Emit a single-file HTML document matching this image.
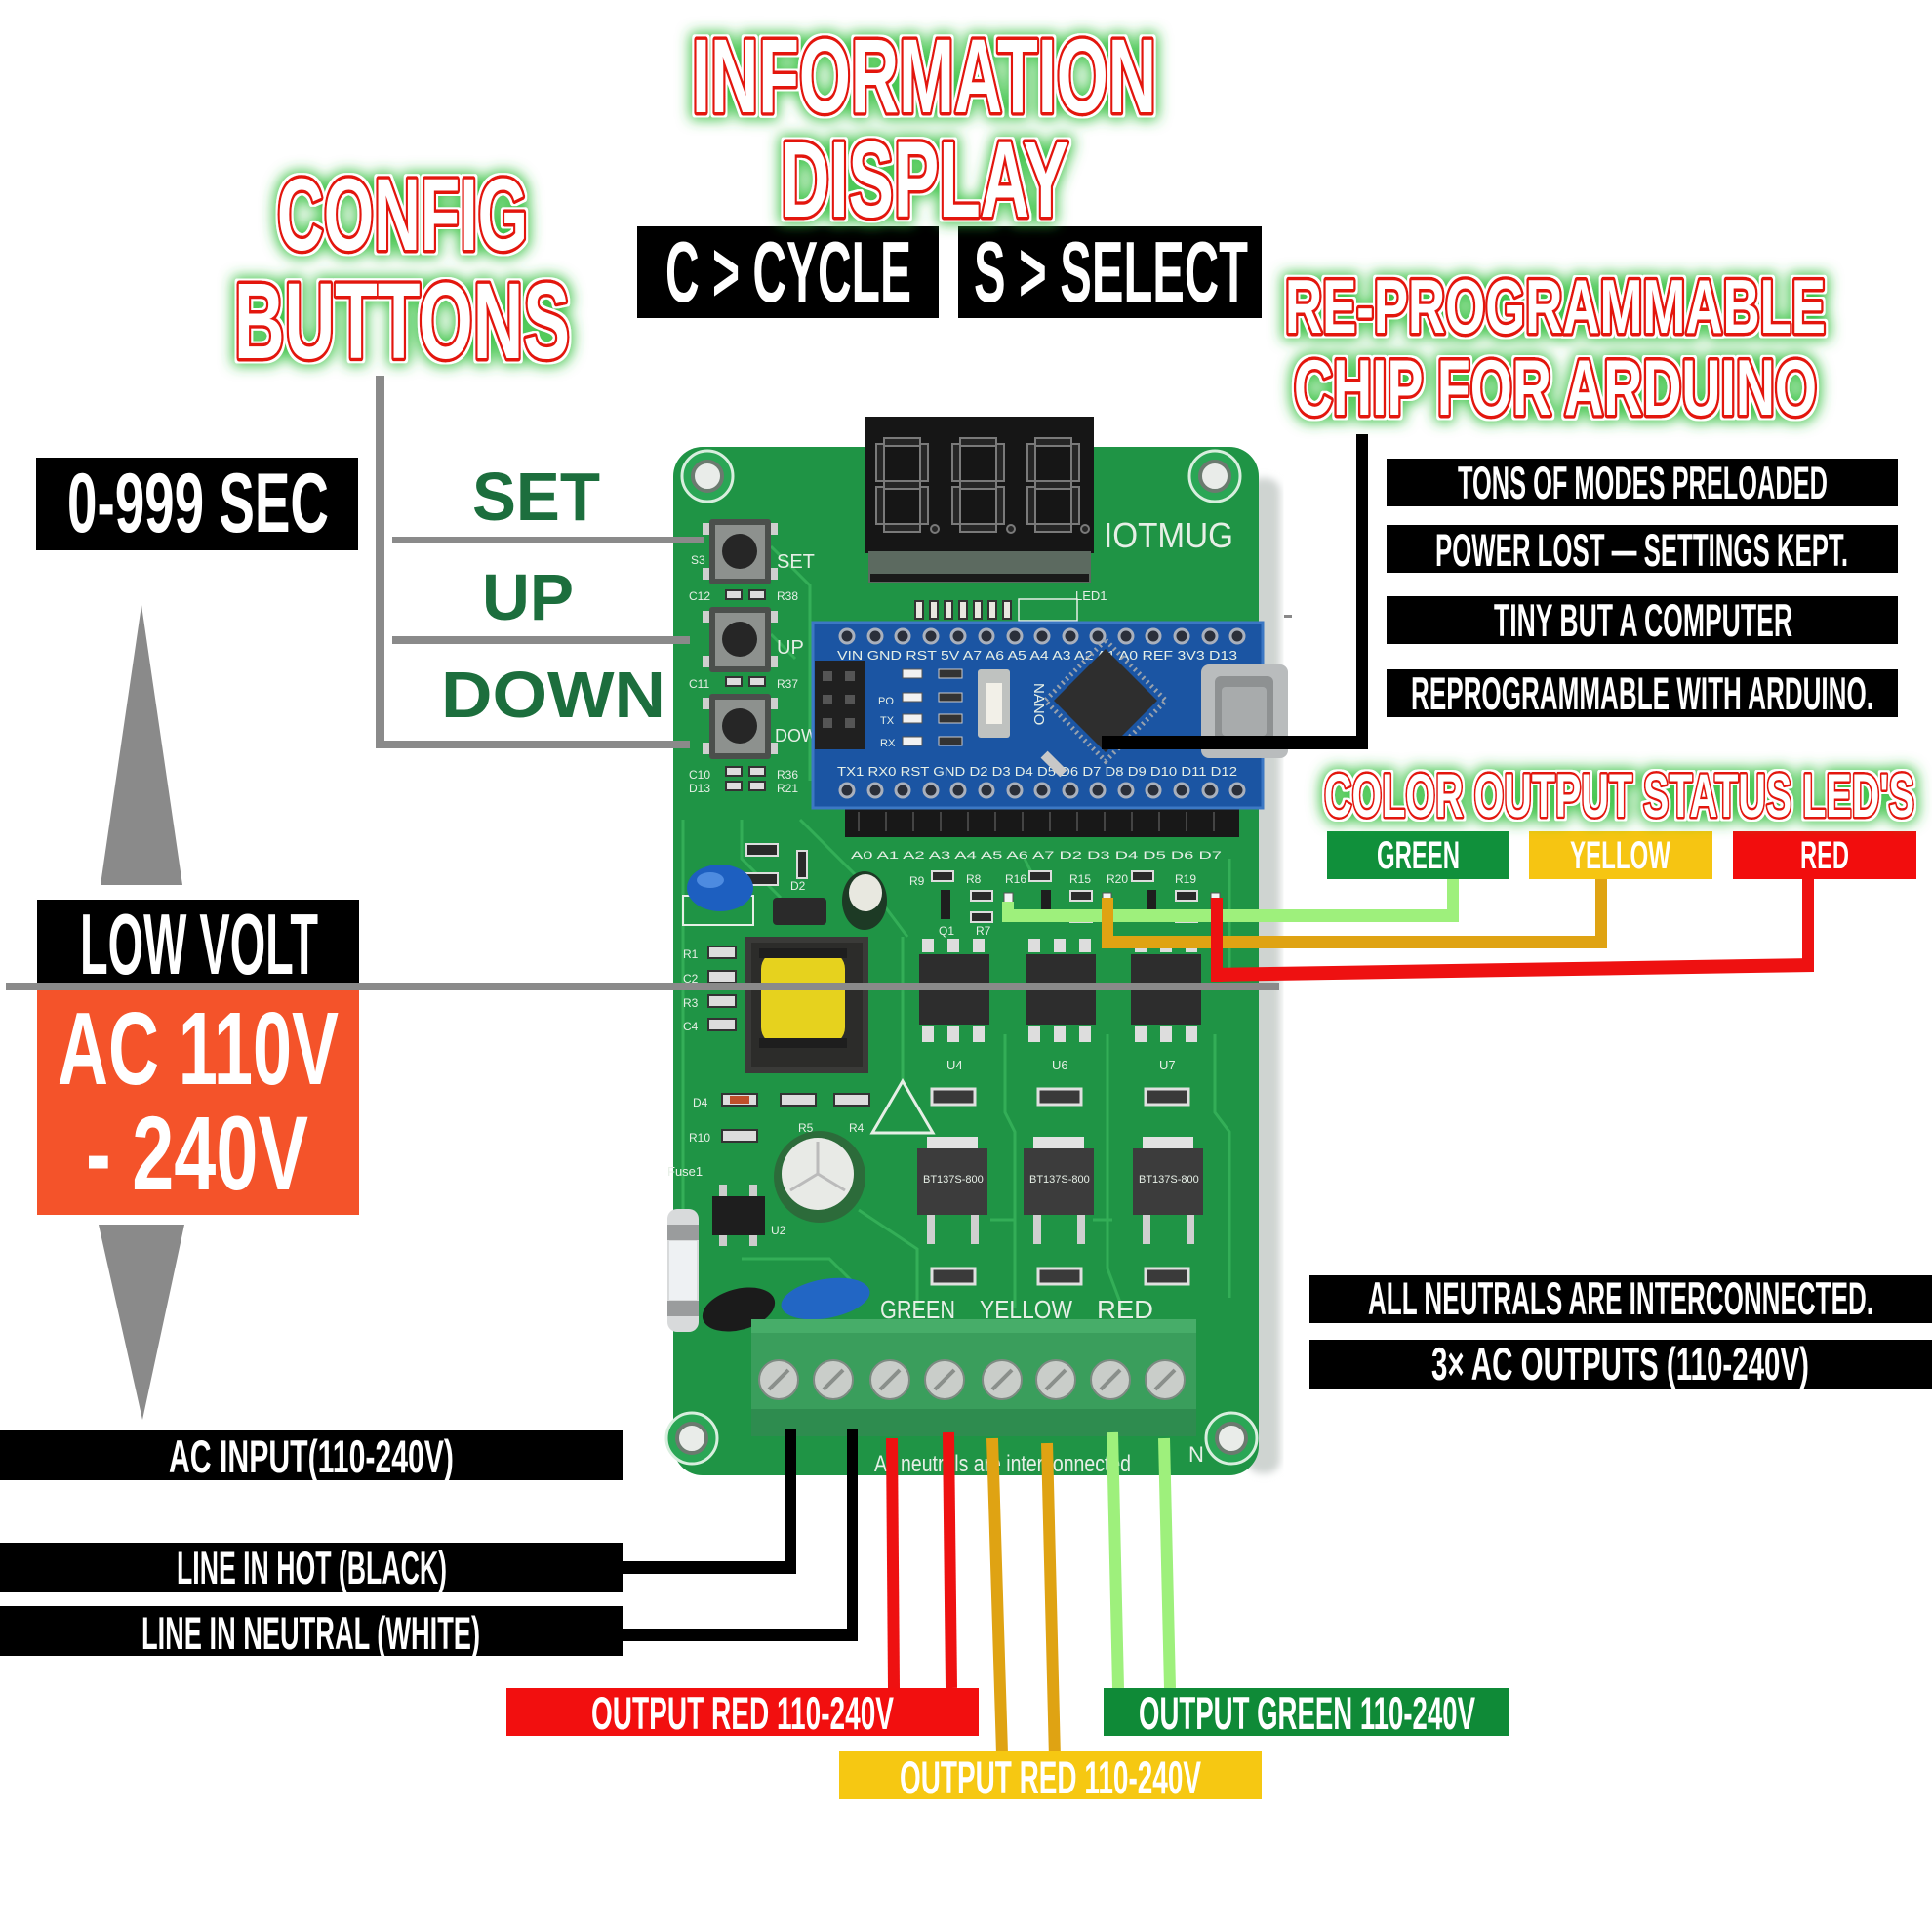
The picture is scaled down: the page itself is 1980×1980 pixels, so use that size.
<!DOCTYPE html>
<html><head><meta charset="utf-8"><style>
html,body{margin:0;padding:0;background:#fff;}
svg{display:block;}
.t{font-family:"Liberation Sans",sans-serif;font-weight:bold;fill:#fff;stroke:#e3120f;stroke-width:7;paint-order:stroke;stroke-linejoin:round;}
.b{font-family:"Liberation Sans",sans-serif;font-weight:bold;fill:#fff;}
.g{font-family:"Liberation Sans",sans-serif;font-weight:bold;fill:#1c6e3d;}
.s{font-family:"Liberation Sans",sans-serif;fill:#e6efe6;}
</style></head><body>
<svg width="1980" height="1980" viewBox="0 0 1980 1980" xmlns="http://www.w3.org/2000/svg">
<defs>
<filter id="glow" x="-20%" y="-40%" width="140%" height="180%">
 <feMorphology in="SourceAlpha" operator="dilate" radius="2" result="d1"/>
 <feFlood flood-color="#ffffff" result="w"/>
 <feComposite in="w" in2="d1" operator="in" result="white"/>
 <feMorphology in="SourceAlpha" operator="dilate" radius="4" result="d2"/>
 <feGaussianBlur in="d2" stdDeviation="7" result="bl"/>
 <feFlood flood-color="#2fbf3a" flood-opacity="0.9"/>
 <feComposite in2="bl" operator="in" result="gl"/>
 <feMerge><feMergeNode in="gl"/><feMergeNode in="white"/><feMergeNode in="SourceGraphic"/></feMerge>
</filter>
<filter id="soft"><feGaussianBlur stdDeviation="4"/></filter>
</defs>
<rect width="1980" height="1980" fill="#fff"/>

<!-- ============ PCB ============ -->
<rect x="1278" y="490" width="34" height="1020" rx="14" fill="#cfd4d1" filter="url(#soft)"/>
<rect x="690" y="458" width="600" height="1054" rx="30" fill="#1f9445"/>
<g stroke="#39b55c" stroke-width="3" fill="none" opacity="0.8">
 <path d="M700 840 L700 1240"/>
 <path d="M790 560 L830 600 L830 800"/>
 <path d="M790 650 L815 675"/>
 <path d="M760 840 L760 880 L800 920"/>
 <path d="M820 840 L900 920 L930 960"/>
 <path d="M925 960 L925 1110"/>
 <path d="M1030 1060 L1030 1140 L1040 1160 L1040 1340"/>
 <path d="M1135 1060 L1135 1300 L1150 1340"/>
 <path d="M1245 1060 L1245 1140 L1260 1160 L1260 1330"/>
 <path d="M880 1240 L940 1280 L940 1340"/>
 <path d="M1015 1250 L1040 1250"/>
 <path d="M1120 1250 L1140 1250"/>
 <path d="M760 1290 L850 1290 L880 1320"/>
 <path d="M1260 880 L1260 1000"/>
 <path d="M1050 880 L1060 900"/>
</g>
<g>
 <circle cx="725" cy="488" r="26" fill="#2aa655" stroke="#d8eede" stroke-width="3"/>
 <circle cx="725" cy="488" r="15" fill="#e9ece9" stroke="#6b7a6f" stroke-width="4"/>
 <circle cx="1245" cy="488" r="26" fill="#2aa655" stroke="#d8eede" stroke-width="3"/>
 <circle cx="1245" cy="488" r="15" fill="#e9ece9" stroke="#6b7a6f" stroke-width="4"/>
 <circle cx="709" cy="1474" r="26" fill="#2aa655" stroke="#d8eede" stroke-width="3"/>
 <circle cx="709" cy="1474" r="15" fill="#e9ece9" stroke="#6b7a6f" stroke-width="4"/>
 <circle cx="1262" cy="1474" r="26" fill="#2aa655" stroke="#d8eede" stroke-width="3"/>
 <circle cx="1262" cy="1474" r="15" fill="#e9ece9" stroke="#6b7a6f" stroke-width="4"/>
</g>
<rect x="886" y="427" width="235" height="140" fill="#161616"/>
<rect x="890" y="565" width="228" height="32" fill="#5c6a60"/>
<rect x="892" y="588" width="224" height="8" fill="#1a1a1a"/>
<g fill="#262626" stroke="#7a7a7a" stroke-width="2">
 <rect x="906" y="449" width="37" height="8"/><rect x="943" y="455" width="8" height="38"/><rect x="943" y="499" width="8" height="38"/><rect x="906" y="537" width="37" height="8"/><rect x="898" y="499" width="8" height="38"/><rect x="898" y="455" width="8" height="38"/><rect x="906" y="493" width="37" height="8"/><circle cx="958" cy="542" r="4"/>
 <rect x="984" y="449" width="37" height="8"/><rect x="1021" y="455" width="8" height="38"/><rect x="1021" y="499" width="8" height="38"/><rect x="984" y="537" width="37" height="8"/><rect x="976" y="499" width="8" height="38"/><rect x="976" y="455" width="8" height="38"/><rect x="984" y="493" width="37" height="8"/><circle cx="1036" cy="542" r="4"/>
 <rect x="1061" y="449" width="37" height="8"/><rect x="1098" y="455" width="8" height="38"/><rect x="1098" y="499" width="8" height="38"/><rect x="1061" y="537" width="37" height="8"/><rect x="1053" y="499" width="8" height="38"/><rect x="1053" y="455" width="8" height="38"/><rect x="1061" y="493" width="37" height="8"/><circle cx="1112" cy="542" r="4"/>
</g>
<text x="1131" y="561" class="s" font-size="36" textLength="133" lengthAdjust="spacingAndGlyphs">IOTMUG</text>
<text x="1102" y="615" class="s" font-size="13">LED1</text>
<g fill="#e8e8e0" stroke="#333" stroke-width="2">
 <rect x="938" y="616" width="8" height="18"/><rect x="953" y="616" width="8" height="18"/><rect x="968" y="616" width="8" height="18"/><rect x="983" y="616" width="8" height="18"/><rect x="998" y="616" width="8" height="18"/><rect x="1013" y="616" width="8" height="18"/><rect x="1028" y="616" width="8" height="18"/>
</g>
<g fill="none" stroke="#e6efe6" stroke-width="1.5">
 <rect x="1044" y="614" width="60" height="22"/>
</g>
<g>
 <rect x="720" y="536" width="10" height="12" fill="#cfcfcf"/><rect x="787" y="536" width="10" height="12" fill="#cfcfcf"/><rect x="720" y="582" width="10" height="12" fill="#cfcfcf"/><rect x="787" y="582" width="10" height="12" fill="#cfcfcf"/>
 <rect x="727" y="532" width="63" height="67" rx="3" fill="#4b4f4c"/><rect x="733" y="538" width="51" height="55" fill="#8d918e"/><circle cx="758" cy="565" r="18" fill="#262626"/>
 <rect x="720" y="626" width="10" height="12" fill="#cfcfcf"/><rect x="787" y="626" width="10" height="12" fill="#cfcfcf"/><rect x="720" y="672" width="10" height="12" fill="#cfcfcf"/><rect x="787" y="672" width="10" height="12" fill="#cfcfcf"/>
 <rect x="727" y="622" width="63" height="67" rx="3" fill="#4b4f4c"/><rect x="733" y="628" width="51" height="55" fill="#8d918e"/><circle cx="758" cy="655" r="18" fill="#262626"/>
 <rect x="720" y="715" width="10" height="12" fill="#cfcfcf"/><rect x="787" y="715" width="10" height="12" fill="#cfcfcf"/><rect x="720" y="761" width="10" height="12" fill="#cfcfcf"/><rect x="787" y="761" width="10" height="12" fill="#cfcfcf"/>
 <rect x="727" y="711" width="63" height="67" rx="3" fill="#4b4f4c"/><rect x="733" y="717" width="51" height="55" fill="#8d918e"/><circle cx="758" cy="744" r="18" fill="#262626"/>
</g>
<text x="796" y="582" class="s" font-size="20">SET</text>
<text x="796" y="670" class="s" font-size="20">UP</text>
<text x="794" y="760" class="s" font-size="18">DOWN</text>
<text x="708" y="578" class="s" font-size="12">S3</text>
<text x="706" y="615" class="s" font-size="12">C12</text><text x="796" y="615" class="s" font-size="12">R38</text>
<text x="706" y="705" class="s" font-size="12">C11</text><text x="796" y="705" class="s" font-size="12">R37</text>
<text x="706" y="798" class="s" font-size="12">C10</text><text x="796" y="798" class="s" font-size="12">R36</text>
<text x="706" y="812" class="s" font-size="12">D13</text><text x="796" y="812" class="s" font-size="12">R21</text>
<g fill="#ddd" stroke="#333" stroke-width="2">
 <rect x="744" y="605" width="16" height="9"/><rect x="768" y="605" width="16" height="9"/>
 <rect x="744" y="694" width="16" height="9"/><rect x="768" y="694" width="16" height="9"/>
 <rect x="744" y="786" width="16" height="9"/><rect x="768" y="786" width="16" height="9"/>
 <rect x="744" y="801" width="16" height="9"/><rect x="768" y="801" width="16" height="9"/>
</g>
<rect x="866" y="827" width="404" height="31" fill="#181818"/>
<g stroke="#444" stroke-width="2">
 <line x1="880" y1="832" x2="880" y2="852"/><line x1="908" y1="832" x2="908" y2="852"/><line x1="936" y1="832" x2="936" y2="852"/><line x1="964" y1="832" x2="964" y2="852"/><line x1="992" y1="832" x2="992" y2="852"/><line x1="1020" y1="832" x2="1020" y2="852"/><line x1="1048" y1="832" x2="1048" y2="852"/><line x1="1076" y1="832" x2="1076" y2="852"/><line x1="1104" y1="832" x2="1104" y2="852"/><line x1="1132" y1="832" x2="1132" y2="852"/><line x1="1160" y1="832" x2="1160" y2="852"/><line x1="1188" y1="832" x2="1188" y2="852"/><line x1="1216" y1="832" x2="1216" y2="852"/><line x1="1244" y1="832" x2="1244" y2="852"/>
</g>
<rect x="833" y="638" width="461" height="190" fill="#1b55a3"/>
<rect x="833" y="638" width="461" height="190" fill="none" stroke="#3c78c4" stroke-width="3"/>
<g fill="#2a2f3a" stroke="#a9b0bc" stroke-width="3">
 <circle cx="868" cy="652" r="7"/><circle cx="897" cy="652" r="7"/><circle cx="925" cy="652" r="7"/><circle cx="954" cy="652" r="7"/><circle cx="982" cy="652" r="7"/><circle cx="1011" cy="652" r="7"/><circle cx="1040" cy="652" r="7"/><circle cx="1068" cy="652" r="7"/><circle cx="1097" cy="652" r="7"/><circle cx="1125" cy="652" r="7"/><circle cx="1154" cy="652" r="7"/><circle cx="1182" cy="652" r="7"/><circle cx="1211" cy="652" r="7"/><circle cx="1240" cy="652" r="7"/><circle cx="1268" cy="652" r="7"/>
 <circle cx="868" cy="810" r="7"/><circle cx="897" cy="810" r="7"/><circle cx="925" cy="810" r="7"/><circle cx="954" cy="810" r="7"/><circle cx="982" cy="810" r="7"/><circle cx="1011" cy="810" r="7"/><circle cx="1040" cy="810" r="7"/><circle cx="1068" cy="810" r="7"/><circle cx="1097" cy="810" r="7"/><circle cx="1125" cy="810" r="7"/><circle cx="1154" cy="810" r="7"/><circle cx="1182" cy="810" r="7"/><circle cx="1211" cy="810" r="7"/><circle cx="1240" cy="810" r="7"/><circle cx="1268" cy="810" r="7"/>
</g>
<text x="858" y="676" class="s" font-size="13" textLength="410" lengthAdjust="spacingAndGlyphs">VIN GND RST 5V A7 A6 A5 A4 A3 A2 A1 A0 REF 3V3 D13</text>
<text x="858" y="795" class="s" font-size="13" textLength="410" lengthAdjust="spacingAndGlyphs">TX1 RX0 RST GND D2 D3 D4 D5 D6 D7 D8 D9 D10 D11 D12</text>
<rect x="835" y="677" width="51" height="91" fill="#202020"/>
<g fill="#555"><rect x="843" y="688" width="10" height="10"/><rect x="866" y="688" width="10" height="10"/><rect x="843" y="712" width="10" height="10"/><rect x="866" y="712" width="10" height="10"/><rect x="843" y="736" width="10" height="10"/><rect x="866" y="736" width="10" height="10"/></g>
<g>
 <rect x="925" y="686" width="20" height="9" fill="#f2f2f2" stroke="#555"/><rect x="962" y="686" width="24" height="9" fill="#333" stroke="#ccc"/>
 <rect x="925" y="710" width="20" height="9" fill="#f2f2f2" stroke="#555"/><rect x="962" y="710" width="24" height="9" fill="#333" stroke="#ccc"/>
 <rect x="925" y="732" width="20" height="9" fill="#f2f2f2" stroke="#555"/><rect x="962" y="732" width="24" height="9" fill="#333" stroke="#ccc"/>
 <rect x="925" y="755" width="20" height="9" fill="#f2f2f2" stroke="#555"/><rect x="962" y="755" width="24" height="9" fill="#333" stroke="#ccc"/>
</g>
<text x="900" y="722" class="s" font-size="11">PO</text><text x="902" y="742" class="s" font-size="11">TX</text><text x="902" y="765" class="s" font-size="11">RX</text>
<rect x="1002" y="686" width="33" height="70" rx="3" fill="#bfc2c0"/><rect x="1010" y="700" width="17" height="42" fill="#f2f0e8"/>
<text x="1060" y="700" class="s" font-size="15" transform="rotate(90 1060 700)">NANO</text>
<polygon points="1133,656 1195,718 1133,780 1071,718" fill="none" stroke="#9aa3ae" stroke-width="5" stroke-dasharray="2 4"/>
<polygon points="1133,665 1186,718 1133,771 1080,718" fill="#2e2e2e"/>
<rect x="1066" y="778" width="28" height="10" fill="#c8c8c8" transform="rotate(45 1080 783)"/>
<rect x="1231" y="681" width="89" height="96" rx="8" fill="#b9bcbd"/>
<rect x="1245" y="693" width="60" height="72" rx="6" fill="#8e9192"/>
<rect x="1252" y="704" width="46" height="50" rx="4" fill="#a8abac"/>

<text x="872" y="880" class="s" font-size="11" textLength="380" lengthAdjust="spacingAndGlyphs">A0 A1 A2 A3 A4 A5 A6 A7 D2 D3 D4 D5 D6 D7</text>
<g fill="#2a2a2a" stroke="#ddd" stroke-width="2">
 <rect x="955" y="893" width="22" height="10"/><rect x="995" y="913" width="22" height="10"/><rect x="995" y="935" width="22" height="10"/>
 <rect x="1055" y="893" width="22" height="10"/><rect x="1097" y="913" width="22" height="10"/><rect x="1097" y="935" width="22" height="10"/>
 <rect x="1160" y="893" width="22" height="10"/><rect x="1205" y="913" width="22" height="10"/><rect x="1205" y="935" width="22" height="10"/>
 <rect x="765" y="865" width="32" height="12"/><rect x="765" y="895" width="32" height="12"/><rect x="817" y="872" width="10" height="28"/>
</g>
<g fill="#1e1e1e">
 <rect x="964" y="912" width="10" height="30"/><rect x="1067" y="912" width="10" height="30"/><rect x="1175" y="912" width="10" height="30"/>
</g>
<g fill="#f4f4f4" stroke="#555"><rect x="1029" y="915" width="9" height="18"/><rect x="1130" y="915" width="9" height="18"/><rect x="1241" y="915" width="9" height="18"/></g>
<text x="932" y="907" class="s" font-size="12">R9</text><text x="990" y="905" class="s" font-size="12">R8</text><text x="1030" y="905" class="s" font-size="12">R16</text><text x="1096" y="905" class="s" font-size="12">R15</text><text x="1134" y="905" class="s" font-size="12">R20</text><text x="1204" y="905" class="s" font-size="12">R19</text>
<text x="962" y="958" class="s" font-size="12">Q1</text><text x="1000" y="958" class="s" font-size="12">R7</text>
<rect x="700" y="918" width="72" height="30" fill="none" stroke="#e6efe6" stroke-width="2"/>
<ellipse cx="738" cy="910" rx="34" ry="24" fill="#1d5fc0"/>
<ellipse cx="728" cy="902" rx="14" ry="8" fill="#4d8be0"/>
<rect x="792" y="920" width="55" height="28" rx="4" fill="#2a2a2a"/>
<text x="810" y="912" class="s" font-size="12">D2</text>
<ellipse cx="886" cy="923" rx="23" ry="30" fill="#1d3a25"/>
<ellipse cx="887" cy="915" rx="17" ry="19" fill="#e8e8e0"/>
<rect x="764" y="960" width="126" height="140" fill="#3a3a38"/>
<rect x="770" y="966" width="114" height="128" fill="#2c2c2a"/>
<rect x="780" y="975" width="86" height="96" rx="18" fill="#e6d21e"/>
<rect x="778" y="972" width="90" height="10" fill="#1e1e1e"/>
<rect x="778" y="1064" width="90" height="10" fill="#1e1e1e"/>
<g fill="#ddd" stroke="#333" stroke-width="2">
 <rect x="726" y="970" width="28" height="12"/><rect x="726" y="995" width="28" height="12"/><rect x="726" y="1020" width="28" height="12"/><rect x="726" y="1044" width="28" height="12"/>
</g>
<text x="700" y="982" class="s" font-size="12">R1</text><text x="700" y="1007" class="s" font-size="12">C2</text><text x="700" y="1032" class="s" font-size="12">R3</text><text x="700" y="1056" class="s" font-size="12">C4</text>
<g>
 <g fill="#ddd"><rect x="945" y="962" width="12" height="14"/><rect x="971" y="962" width="12" height="14"/><rect x="997" y="962" width="12" height="14"/>
 <rect x="1054" y="962" width="12" height="14"/><rect x="1080" y="962" width="12" height="14"/><rect x="1106" y="962" width="12" height="14"/>
 <rect x="1163" y="962" width="12" height="14"/><rect x="1189" y="962" width="12" height="14"/><rect x="1215" y="962" width="12" height="14"/>
 <rect x="945" y="1052" width="12" height="16"/><rect x="971" y="1052" width="12" height="16"/><rect x="997" y="1052" width="12" height="16"/>
 <rect x="1054" y="1052" width="12" height="16"/><rect x="1080" y="1052" width="12" height="16"/><rect x="1106" y="1052" width="12" height="16"/>
 <rect x="1163" y="1052" width="12" height="16"/><rect x="1189" y="1052" width="12" height="16"/><rect x="1215" y="1052" width="12" height="16"/></g>
 <rect x="942" y="978" width="72" height="72" fill="#2d2d2d"/>
 <rect x="1051" y="978" width="72" height="72" fill="#2d2d2d"/>
 <rect x="1159" y="978" width="72" height="72" fill="#2d2d2d"/>
</g>
<text x="970" y="1096" class="s" font-size="13">U4</text><text x="1078" y="1096" class="s" font-size="13">U6</text><text x="1188" y="1096" class="s" font-size="13">U7</text>
<g fill="#3a3a3a" stroke="#e0e0e0" stroke-width="3">
 <rect x="955" y="1116" width="44" height="16"/><rect x="1064" y="1116" width="44" height="16"/><rect x="1174" y="1116" width="44" height="16"/>
 <rect x="955" y="1300" width="44" height="16"/><rect x="1064" y="1300" width="44" height="16"/><rect x="1174" y="1300" width="44" height="16"/>
</g>
<g fill="#ddd" stroke="#333" stroke-width="2">
 <rect x="740" y="1121" width="36" height="12"/><rect x="800" y="1121" width="36" height="12"/><rect x="855" y="1121" width="36" height="12"/>
 <rect x="740" y="1158" width="36" height="12"/>
</g>
<rect x="748" y="1123" width="20" height="8" fill="#c0502a"/>
<text x="710" y="1134" class="s" font-size="12">D4</text><text x="706" y="1170" class="s" font-size="12">R10</text>
<text x="818" y="1160" class="s" font-size="12">R5</text><text x="870" y="1160" class="s" font-size="12">R4</text>
<polygon points="894,1161 925,1108 956,1161" fill="none" stroke="#e6efe6" stroke-width="3"/>
<g>
 <rect x="950" y="1165" width="52" height="14" fill="#e2e2e2"/><rect x="940" y="1177" width="72" height="68" fill="#3c3c3c"/>
 <rect x="1059" y="1165" width="52" height="14" fill="#e2e2e2"/><rect x="1049" y="1177" width="72" height="68" fill="#3c3c3c"/>
 <rect x="1171" y="1165" width="52" height="14" fill="#e2e2e2"/><rect x="1161" y="1177" width="72" height="68" fill="#3c3c3c"/>
 <g fill="#cfcfcf"><rect x="950" y="1245" width="8" height="30"/><rect x="995" y="1245" width="8" height="30"/><rect x="1059" y="1245" width="8" height="30"/><rect x="1104" y="1245" width="8" height="30"/><rect x="1171" y="1245" width="8" height="30"/><rect x="1216" y="1245" width="8" height="30"/></g>
</g>
<g class="s" font-size="11" fill="#777"><text x="946" y="1212">BT137S-800</text><text x="1055" y="1212">BT137S-800</text><text x="1167" y="1212">BT137S-800</text></g>
<circle cx="840" cy="1206" r="47" fill="#2c6b3a"/>
<circle cx="838" cy="1203" r="37" fill="#e8eae6"/>
<path d="M838 1203 L838 1170 M838 1203 L810 1220 M838 1203 L866 1220" stroke="#bbb" stroke-width="3"/>
<g fill="#ccc"><rect x="737" y="1214" width="8" height="14"/><rect x="768" y="1214" width="8" height="14"/><rect x="737" y="1263" width="8" height="14"/><rect x="768" y="1263" width="8" height="14"/></g>
<rect x="730" y="1226" width="54" height="40" fill="#1e1e1e"/>
<text x="790" y="1265" class="s" font-size="12">U2</text>
<text x="684" y="1205" class="s" font-size="13">Fuse1</text>
<rect x="684" y="1239" width="32" height="126" rx="10" fill="#d8dadb"/>
<rect x="686" y="1272" width="28" height="60" fill="#eef1f3"/>
<rect x="684" y="1255" width="32" height="16" fill="#9a9c9d"/><rect x="684" y="1333" width="32" height="16" fill="#9a9c9d"/>
<ellipse cx="757" cy="1342" rx="38" ry="21" fill="#1b1b1b" transform="rotate(-15 757 1342)"/>
<ellipse cx="846" cy="1331" rx="46" ry="20" fill="#2266c4" transform="rotate(-10 846 1331)"/>
<text x="902" y="1351" class="s" font-size="26" textLength="77" lengthAdjust="spacingAndGlyphs">GREEN</text>
<text x="1004" y="1351" class="s" font-size="26" textLength="95" lengthAdjust="spacingAndGlyphs">YELLOW</text>
<text x="1124" y="1351" class="s" font-size="26" textLength="58" lengthAdjust="spacingAndGlyphs">RED</text>
<rect x="770" y="1352" width="456" height="120" rx="4" fill="#3a9e5c"/>
<rect x="770" y="1352" width="456" height="14" fill="#47ad69"/>
<rect x="770" y="1444" width="456" height="28" fill="#2e8c4f"/>
<g fill="#c9cdc9" stroke="#7e8a82" stroke-width="2">
 <circle cx="798" cy="1414" r="20"/><circle cx="854" cy="1414" r="20"/><circle cx="912" cy="1414" r="20"/><circle cx="968" cy="1414" r="20"/><circle cx="1027" cy="1414" r="20"/><circle cx="1082" cy="1414" r="20"/><circle cx="1138" cy="1414" r="20"/><circle cx="1194" cy="1414" r="20"/>
</g>
<g stroke="#8a8f8b" stroke-width="4">
 <line x1="788" y1="1424" x2="808" y2="1404"/><line x1="844" y1="1424" x2="864" y2="1404"/><line x1="902" y1="1424" x2="922" y2="1404"/><line x1="958" y1="1424" x2="978" y2="1404"/><line x1="1017" y1="1424" x2="1037" y2="1404"/><line x1="1072" y1="1424" x2="1092" y2="1404"/><line x1="1128" y1="1424" x2="1148" y2="1404"/><line x1="1184" y1="1424" x2="1204" y2="1404"/>
</g>
<text x="896" y="1508" class="s" font-size="24" textLength="263" lengthAdjust="spacingAndGlyphs">All neutrals are interconnected</text>
<text x="1218" y="1498" class="s" font-size="22">N</text>
<rect x="1316" y="630" width="8" height="3" fill="#888"/>

<!-- ============ CONNECTORS ============ -->
<g fill="#8a8a8a">
 <rect x="385" y="385" width="9" height="381"/>
 <rect x="402" y="550" width="320" height="7"/>
 <rect x="402" y="652" width="305" height="8"/>
 <rect x="385" y="759" width="322" height="8"/>
 <rect x="6" y="1007" width="1305" height="8"/>
 <polygon points="145,620 187,907 103,907"/>
 <polygon points="101,1255 189,1255 146,1455"/>
</g>
<rect x="1390" y="445" width="12" height="323" fill="#000"/>
<rect x="1129" y="754" width="273" height="14" fill="#000"/>
<g fill="#9ef07c">
 <rect x="1483" y="900" width="12" height="45"/>
 <rect x="1027" y="932" width="468" height="13"/>
 <rect x="1027" y="924" width="12" height="21"/>
</g>
<g fill="#dfa313">
 <rect x="1635" y="900" width="12" height="72"/>
 <rect x="1129" y="959" width="518" height="13"/>
 <rect x="1129" y="920" width="12" height="52"/>
</g>
<g fill="#ee1111">
 <rect x="1847" y="900" width="12" height="95"/>
 <polygon points="1241,992 1859,982 1859,996 1241,1006"/>
 <rect x="1241" y="920" width="12" height="86"/>
</g>
<g fill="#000">
 <rect x="804" y="1465" width="12" height="148"/>
 <rect x="638" y="1600" width="178" height="13"/>
 <rect x="868" y="1465" width="11" height="217"/>
 <rect x="638" y="1669" width="241" height="13"/>
</g>
<g stroke-width="12" fill="none">
 <line x1="914" y1="1474" x2="916" y2="1730" stroke="#ee1111"/>
 <line x1="972" y1="1468" x2="975" y2="1730" stroke="#ee1111"/>
 <line x1="1017" y1="1474" x2="1027" y2="1797" stroke="#dfa313"/>
 <line x1="1073" y1="1479" x2="1081" y2="1802" stroke="#dfa313"/>
 <line x1="1140" y1="1468" x2="1146" y2="1730" stroke="#9ef07c"/>
 <line x1="1193" y1="1474" x2="1199" y2="1730" stroke="#9ef07c"/>
</g>

<!-- ============ LABEL BOXES ============ -->
<rect x="653" y="232" width="309" height="94" fill="#000"/>
<text x="682" y="309" class="b" font-size="88" textLength="252" lengthAdjust="spacingAndGlyphs">C &gt; CYCLE</text>
<rect x="982" y="232" width="311" height="94" fill="#000"/>
<text x="998" y="309" class="b" font-size="88" textLength="281" lengthAdjust="spacingAndGlyphs">S &gt; SELECT</text>

<rect x="37" y="469" width="330" height="95" fill="#000"/>
<text x="69" y="545" class="b" font-size="86" textLength="268" lengthAdjust="spacingAndGlyphs">0-999 SEC</text>

<rect x="1421" y="470" width="524" height="49" fill="#000"/>
<text x="1494" y="511" class="b" font-size="47" textLength="379" lengthAdjust="spacingAndGlyphs">TONS OF MODES PRELOADED</text>
<rect x="1421" y="538" width="524" height="49" fill="#000"/>
<text x="1471" y="580" class="b" font-size="47" textLength="423" lengthAdjust="spacingAndGlyphs">POWER LOST — SETTINGS KEPT.</text>
<rect x="1421" y="611" width="524" height="49" fill="#000"/>
<text x="1531" y="652" class="b" font-size="47" textLength="306" lengthAdjust="spacingAndGlyphs">TINY BUT A COMPUTER</text>
<rect x="1421" y="686" width="524" height="49" fill="#000"/>
<text x="1446" y="727" class="b" font-size="47" textLength="474" lengthAdjust="spacingAndGlyphs">REPROGRAMMABLE WITH ARDUINO.</text>

<rect x="1360" y="852" width="187" height="49" fill="#10903b"/>
<text x="1411" y="890" class="b" font-size="40" textLength="85" lengthAdjust="spacingAndGlyphs">GREEN</text>
<rect x="1567" y="852" width="188" height="49" fill="#f6c512"/>
<text x="1609" y="890" class="b" font-size="40" textLength="103" lengthAdjust="spacingAndGlyphs" fill="#fffbe6">YELLOW</text>
<rect x="1776" y="852" width="188" height="49" fill="#f20d0d"/>
<text x="1845" y="890" class="b" font-size="40" textLength="50" lengthAdjust="spacingAndGlyphs">RED</text>

<rect x="38" y="922" width="330" height="88" fill="#000"/>
<text x="82" y="998" class="b" font-size="88" textLength="244" lengthAdjust="spacingAndGlyphs">LOW VOLT</text>
<rect x="38" y="1014" width="330" height="231" fill="#f4532a"/>
<text x="59" y="1111" class="b" font-size="106" textLength="288" lengthAdjust="spacingAndGlyphs">AC 110V</text>
<text x="88" y="1219" class="b" font-size="108" textLength="228" lengthAdjust="spacingAndGlyphs">- 240V</text>
<rect x="6" y="1007" width="362" height="8" fill="#8a8a8a"/>

<rect x="1342" y="1307" width="638" height="49" fill="#000"/>
<text x="1402" y="1347" class="b" font-size="47" textLength="518" lengthAdjust="spacingAndGlyphs">ALL NEUTRALS ARE INTERCONNECTED.</text>
<rect x="1342" y="1373" width="638" height="50" fill="#000"/>
<text x="1467" y="1414" class="b" font-size="47" textLength="387" lengthAdjust="spacingAndGlyphs">3× AC OUTPUTS (110-240V)</text>

<rect x="0" y="1466" width="638" height="51" fill="#000"/>
<text x="173" y="1509" class="b" font-size="47" textLength="292" lengthAdjust="spacingAndGlyphs">AC INPUT(110-240V)</text>
<rect x="0" y="1581" width="638" height="51" fill="#000"/>
<text x="181" y="1623" class="b" font-size="47" textLength="277" lengthAdjust="spacingAndGlyphs">LINE IN HOT (BLACK)</text>
<rect x="0" y="1646" width="638" height="51" fill="#000"/>
<text x="145" y="1690" class="b" font-size="47" textLength="347" lengthAdjust="spacingAndGlyphs">LINE IN NEUTRAL (WHITE)</text>

<rect x="519" y="1730" width="484" height="49" fill="#f20f0f"/>
<text x="606" y="1772" class="b" font-size="47" textLength="310" lengthAdjust="spacingAndGlyphs">OUTPUT  RED 110-240V</text>
<rect x="1131" y="1730" width="416" height="49" fill="#0f8a37"/>
<text x="1167" y="1772" class="b" font-size="47" textLength="345" lengthAdjust="spacingAndGlyphs">OUTPUT  GREEN 110-240V</text>
<rect x="860" y="1795" width="433" height="49" fill="#f6c812"/>
<text x="922" y="1838" class="b" font-size="47" textLength="309" lengthAdjust="spacingAndGlyphs">OUTPUT  RED 110-240V</text>

<text x="484" y="533" class="g" font-size="70" textLength="131" lengthAdjust="spacingAndGlyphs">SET</text>
<text x="494" y="635" class="g" font-size="67" textLength="94" lengthAdjust="spacingAndGlyphs">UP</text>
<text x="452" y="735" class="g" font-size="67" textLength="230" lengthAdjust="spacingAndGlyphs">DOWN</text>

<!-- ============ TITLES ============ -->
<g filter="url(#glow)">
 <text x="709" y="115" class="t" font-size="108" textLength="476" lengthAdjust="spacingAndGlyphs">INFORMATION</text>
 <text x="800" y="222" class="t" font-size="110" textLength="295" lengthAdjust="spacingAndGlyphs">DISPLAY</text>
 <text x="284" y="256" class="t" font-size="105" textLength="257" lengthAdjust="spacingAndGlyphs">CONFIG</text>
 <text x="240" y="367" class="t" font-size="110" textLength="344" lengthAdjust="spacingAndGlyphs">BUTTONS</text>
 <text x="1317" y="341" class="t" font-size="78" textLength="554" lengthAdjust="spacingAndGlyphs">RE-PROGRAMMABLE</text>
 <text x="1326" y="425" class="t" font-size="81" textLength="536" lengthAdjust="spacingAndGlyphs">CHIP FOR ARDUINO</text>
 <text x="1357" y="837" class="t" font-size="63" style="stroke-width:5" textLength="605" lengthAdjust="spacingAndGlyphs">COLOR OUTPUT STATUS LED'S</text>
</g>
</svg>
</body></html>
